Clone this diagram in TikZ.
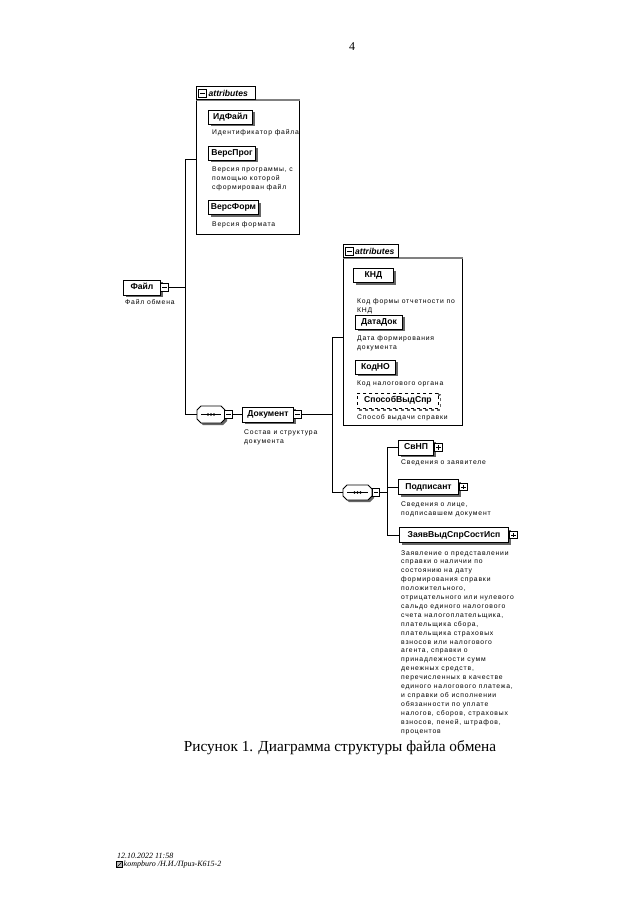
\documentclass[tikz,border=0pt]{standalone}
\usepackage{fontspec}
\setmainfont{Liberation Serif}
\newfontfamily\xsans{Liberation Sans}
\newfontfamily\xdesc[LetterSpace=12]{Liberation Sans}

\newcommand\xseqoct[4]{%
  \fill[black!60] ({#1+6},{#2+2}) -- ({#3-2},{#2+2}) -- ({#3+2},{#2+6}) -- ({#3+2},{#4-2}) -- ({#3-2},{#4+2}) -- ({#1+6},{#4+2}) -- ({#1+2},{#4-2}) -- ({#1+2},{#2+6}) -- cycle;
  \filldraw[fill=white, line width=0.9pt] ({#1+4},#2) -- ({#3-4},#2) -- (#3,{#2+4}) -- (#3,{#4-4}) -- ({#3-4},#4) -- ({#1+4},#4) -- (#1,{#4-4}) -- (#1,{#2+4}) -- cycle;
  \draw[line width=0.8pt] ({#1+4},{(#2+#4)/2}) -- ({#3-4},{(#2+#4)/2});
  \foreach \k in {-3,0,3} \fill ({(#1+#3)/2+\k},{(#2+#4)/2}) circle (1.3pt);
}

\tikzset{
  conn/.style={draw, line width=0.7pt},
  elemshadow/.style={preaction={fill=black!60, transform canvas={shift={(2pt,-2pt)}}}},
  elem/.style={draw, line width=1pt, fill=white, inner xsep=2pt, inner ysep=0pt,
    text height=6.2pt, text depth=1.6pt,
    font=\xsans\bfseries\fontsize{8.6}{10}\selectfont, elemshadow, minimum height=15pt},
  attrel/.style={elem, minimum height=14pt},
  optel/.style={draw, dashed, line width=0.9pt, fill=white, inner xsep=2pt, inner ysep=0pt,
    text height=6.2pt, text depth=1.6pt,
    font=\xsans\bfseries\fontsize{8.6}{10}\selectfont, minimum height=15pt,
    preaction={draw=black!60, dashed, line width=1.2pt, transform canvas={shift={(2pt,-2pt)}}}},
  desc/.style={anchor=north west, inner sep=0pt, align=left, font=\xdesc\fontsize{6.8}{8.8}\selectfont},
  longdesc/.style={desc, font=\xdesc\fontsize{6.8}{8.9}\selectfont},
  attrbox/.style={draw, line width=0.8pt, fill=white, inner sep=0pt},
  attrtop/.style={draw=black!50, line width=1.5pt},
  attrtab/.style={draw, line width=0.8pt, fill=white, inner sep=0pt},
  tabtext/.style={inner sep=0pt, font=\xsans\bfseries\itshape\fontsize{8.6}{10}\selectfont},
  expm/.style={draw, fill=white, line width=0.6pt, minimum size=7.5pt, inner sep=0pt,
    path picture={\draw[line width=0.7pt] ([xshift=1.6pt]path picture bounding box.west) -- ([xshift=-1.6pt]path picture bounding box.east);}},
  expp/.style={draw, fill=white, line width=0.6pt, minimum size=7.5pt, inner sep=0pt,
    path picture={\draw[line width=0.7pt] ([xshift=1.6pt]path picture bounding box.west) -- ([xshift=-1.6pt]path picture bounding box.east)
      ([yshift=-1.6pt]path picture bounding box.north) -- ([yshift=1.6pt]path picture bounding box.south);}},
  seqnode/.style={inner sep=0pt},
}

\begin{document}
\begin{tikzpicture}[x=1pt,y=-1pt]
\useasboundingbox (0,0) rectangle (640,905);
\fill[white] (0,0) rectangle (640,905);

\node[font=\fontsize{12}{14}\selectfont] (pagenum) at (352,47) {4};

% ---------- top attributes box ----------
\node[attrbox, anchor=north west, minimum width=103pt, minimum height=134pt] (attrA) at (196,100) {};
\draw[attrtop] (attrA.north west) -- (attrA.north east);
\node[attrtab, anchor=south west, minimum width=59pt, minimum height=13pt] (tabA) at (attrA.north west) {};
\node[expm] (tabAicon) at (202.5,93.5) {};
\node[tabtext, anchor=west] (tabAtext) at (208.5,93.5) {attributes};

\node[attrel, anchor=west, minimum width=44pt] (idfile) at (208,117) {ИдФайл};
\node[desc] (idfiled) at (212,128.6) {\strut Идентификатор файла};
\node[attrel, anchor=west, minimum width=47pt] (versprog) at (208,153) {ВерсПрог};
\node[desc] (versprogd) at (212,165.6) {\strut Версия программы, с\\помощью которой\\сформирован файл};
\node[attrel, anchor=west, minimum width=50pt] (versform) at (208,207.5) {ВерсФорм};
\node[desc] (versformd) at (212,220.6) {\strut Версия формата};

% ---------- root ----------
\node[elem, anchor=west, minimum width=37pt] (file) at (123,287.5) {Файл};
\node[expm] (fileexp) at (164.5,287.5) {};
\node[desc] (filed) at (125,298.6) {\strut Файл обмена};

\coordinate (tA1) at (185,159);
\coordinate (tA2) at (185,414.5);
\draw[conn] (fileexp.east) -- (fileexp.east -| tA1);
\draw[conn] (tA1) -- (tA2);
\draw[conn] (tA1) -- (tA1 -| attrA.west);

% ---------- sequence A and Документ ----------
\xseqoct{197}{406}{225}{423}
\node[seqnode, minimum width=28pt, minimum height=17pt] (seqA) at (211,414.5) {};
\node[expm] (seqAexp) at (228.5,414.5) {};
\draw[conn] (tA2) -- (seqA.west);

\node[elem, anchor=west, minimum width=51pt] (doc) at (242,414.5) {Документ};
\node[expm] (docexp) at (297.5,414.5) {};
\draw[conn] (seqAexp.east) -- (doc.west);
\node[desc] (docd) at (244,428.6) {\strut Состав и структура\\документа};

\coordinate (tB1) at (332,337);
\coordinate (tB2) at (332,492.5);
\draw[conn] (docexp.east) -- (docexp.east -| tB1);
\draw[conn] (tB1) -- (tB2);

% ---------- second attributes box ----------
\node[attrbox, anchor=north west, minimum width=119pt, minimum height=167pt] (attrB) at (343,258) {};
\draw[attrtop] (attrB.north west) -- (attrB.north east);
\node[attrtab, anchor=south west, minimum width=55pt, minimum height=13pt] (tabB) at (attrB.north west) {};
\node[expm] (tabBicon) at (349.5,251.5) {};
\node[tabtext, anchor=west] (tabBtext) at (355,251.5) {attributes};
\draw[conn] (tB1) -- (tB1 -| attrB.west);

\node[attrel, anchor=west, minimum width=40pt] (knd) at (353,275.5) {КНД};
\node[desc] (kndd) at (357,297.6) {\strut Код формы отчетности по\\КНД};
\node[attrel, anchor=west, minimum width=47pt] (datadok) at (355,322) {ДатаДок};
\node[desc] (datadokd) at (357,334.6) {\strut Дата формирования\\документа};
\node[attrel, anchor=west, minimum width=40pt] (kodno) at (355,367) {КодНО};
\node[desc] (kodnod) at (357,379.6) {\strut Код налогового органа};
\node[optel, anchor=west, minimum width=81pt] (sposob) at (357,400.5) {СпособВыдСпр};
\node[desc] (sposobd) at (357,413.6) {\strut Способ выдачи справки};

% ---------- sequence B and children ----------
\xseqoct{343}{485}{372}{500}
\node[seqnode, minimum width=29pt, minimum height=15pt] (seqB) at (357.5,492.5) {};
\node[expm] (seqBexp) at (376,492.5) {};
\draw[conn] (tB2) -- (seqB.west);

\coordinate (tC1) at (387,447.5);
\coordinate (tC2) at (387,535);
\draw[conn] (seqBexp.east) -- (seqBexp.east -| tC1);
\draw[conn] (tC1) -- (tC2);

\node[elem, anchor=west, minimum width=35pt] (svnp) at (398,447.5) {СвНП};
\node[expp] (svnpexp) at (438.5,447.5) {};
\node[desc] (svnpd) at (401,458.6) {\strut Сведения о заявителе};
\draw[conn] (tC1) -- (svnp.west);

\node[elem, anchor=west, minimum width=60pt] (podp) at (398,487) {Подписант};
\node[expp] (podpexp) at (463.5,487) {};
\node[desc] (podpd) at (401,500.6) {\strut Сведения о лице,\\подписавшем документ};
\draw[conn] (podp.west -| tC1) -- (podp.west);

\node[elem, anchor=west, minimum width=109pt] (zayav) at (399,535) {ЗаявВыдСпрСостИсп};
\node[expp] (zayavexp) at (513.5,535) {};
\draw[conn] (tC2) -- (zayav.west);
\node[longdesc] (zayavd) at (401,548.6) {\strut Заявление о представлении\\справки о наличии по\\состоянию на дату\\формирования справки\\положительного,\\отрицательного или нулевого\\сальдо единого налогового\\счета налогоплательщика,\\плательщика сбора,\\плательщика страховых\\взносов или налогового\\агента, справки о\\принадлежности сумм\\денежных средств,\\перечисленных в качестве\\единого налогового платежа,\\и справки об исполнении\\обязанности по уплате\\налогов, сборов, страховых\\взносов, пеней, штрафов,\\процентов};

% ---------- caption and footer ----------
\node[font=\fontsize{15.3}{17}\selectfont] (caption) at (340,748) {Рисунок 1. Диаграмма структуры файла обмена};

\node[anchor=west, inner sep=0pt, font=\itshape\fontsize{8}{9.5}\selectfont] (foot1) at (117,856) {12.10.2022 11:58};
\draw[line width=0.5pt, fill=black!25] (116.5,861.5) rectangle (122.5,867.5);
\draw[line width=0.4pt] (117.5,866.5) -- (121.5,862.5);
\node[anchor=west, inner sep=0pt, font=\itshape\fontsize{8}{9.5}\selectfont] (foot2) at (123.5,865) {kompburo /Н.И./Приз-К615-2};
\end{tikzpicture}
\end{document}
